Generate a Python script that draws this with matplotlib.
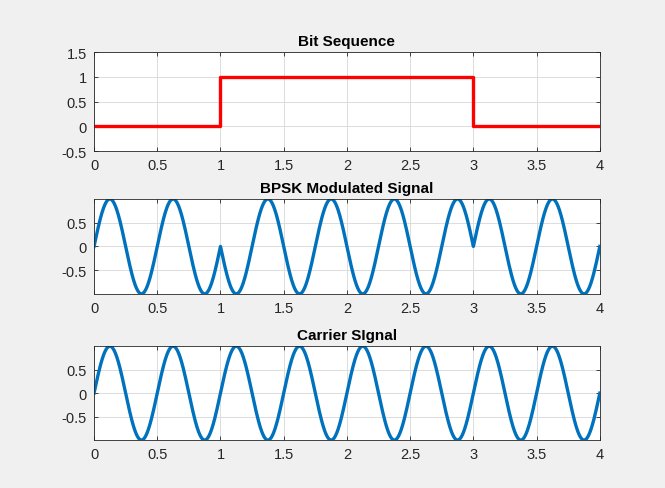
import numpy as np
import matplotlib
matplotlib.use('Agg')
import matplotlib.pyplot as plt

plt.rcParams['font.family'] = ['Liberation Sans', 'DejaVu Sans']

# Bit sequence, one bit per second
bits = [0, 1, 1, 0]
bit_edges = [0, 1, 2, 3, 4]
carrier_freq = 2  # Hz
samples_per_bit = 400

# BPSK: bit 0 -> +carrier, bit 1 -> -carrier
t = np.linspace(0, len(bits), len(bits) * samples_per_bit + 1)
carrier = np.sin(2 * np.pi * carrier_freq * t)
bit_idx = np.minimum((t // 1).astype(int), len(bits) - 1)
# sample at exact bit boundaries belongs to the next bit
bpsk = np.where(np.array(bits)[bit_idx] == 1, -1, 1) * carrier

blue = '#0072BD'
fig = plt.figure(figsize=(6.65, 4.89), dpi=100)
fig.patch.set_facecolor('#f0f0f0')

left, width = 0.1414, 0.7606
ax1 = fig.add_axes([left, 0.689, width, 0.2026])
ax2 = fig.add_axes([left, 0.397, width, 0.194])
ax3 = fig.add_axes([left, 0.098, width, 0.192])


def style(ax, title):
    ax.set_title(title, fontsize=11, fontweight='bold', pad=5, color='#000000')
    ax.set_xlim(0, 4)
    ax.set_xticks([0, 0.5, 1, 1.5, 2, 2.5, 3, 3.5, 4])
    ax.set_xticklabels(['0', '0.5', '1', '1.5', '2', '2.5', '3', '3.5', '4'])
    ax.grid(True, color='#dcdcdc', linewidth=0.7)
    ax.set_axisbelow(True)
    ax.tick_params(direction='in', top=True, right=True, labelsize=10.5,
                   colors='#262626', length=3, width=0.6, pad=5)
    for s in ax.spines.values():
        s.set_color('#262626')
        s.set_linewidth(0.6)


# step plot of the bits
ax1.step(bit_edges, bits + [bits[-1]], where='post', color='red', linewidth=2.4)
style(ax1, 'Bit Sequence')
ax1.set_ylim(-0.5, 1.5)
ax1.set_yticks([-0.5, 0, 0.5, 1, 1.5])
ax1.set_yticklabels(['-0.5', '0', '0.5', '1', '1.5'])

ax2.plot(t, bpsk, color=blue, linewidth=2.4)
style(ax2, 'BPSK Modulated Signal')
ax2.set_ylim(-1, 1)
ax2.set_yticks([-0.5, 0, 0.5])
ax2.set_yticklabels(['-0.5', '0', '0.5'])

ax3.plot(t, carrier, color=blue, linewidth=2.4)
style(ax3, 'Carrier SIgnal')
ax3.set_ylim(-1, 1)
ax3.set_yticks([-0.5, 0, 0.5])
ax3.set_yticklabels(['-0.5', '0', '0.5'])

fig.savefig('out.png', dpi=100, facecolor=fig.get_facecolor())
